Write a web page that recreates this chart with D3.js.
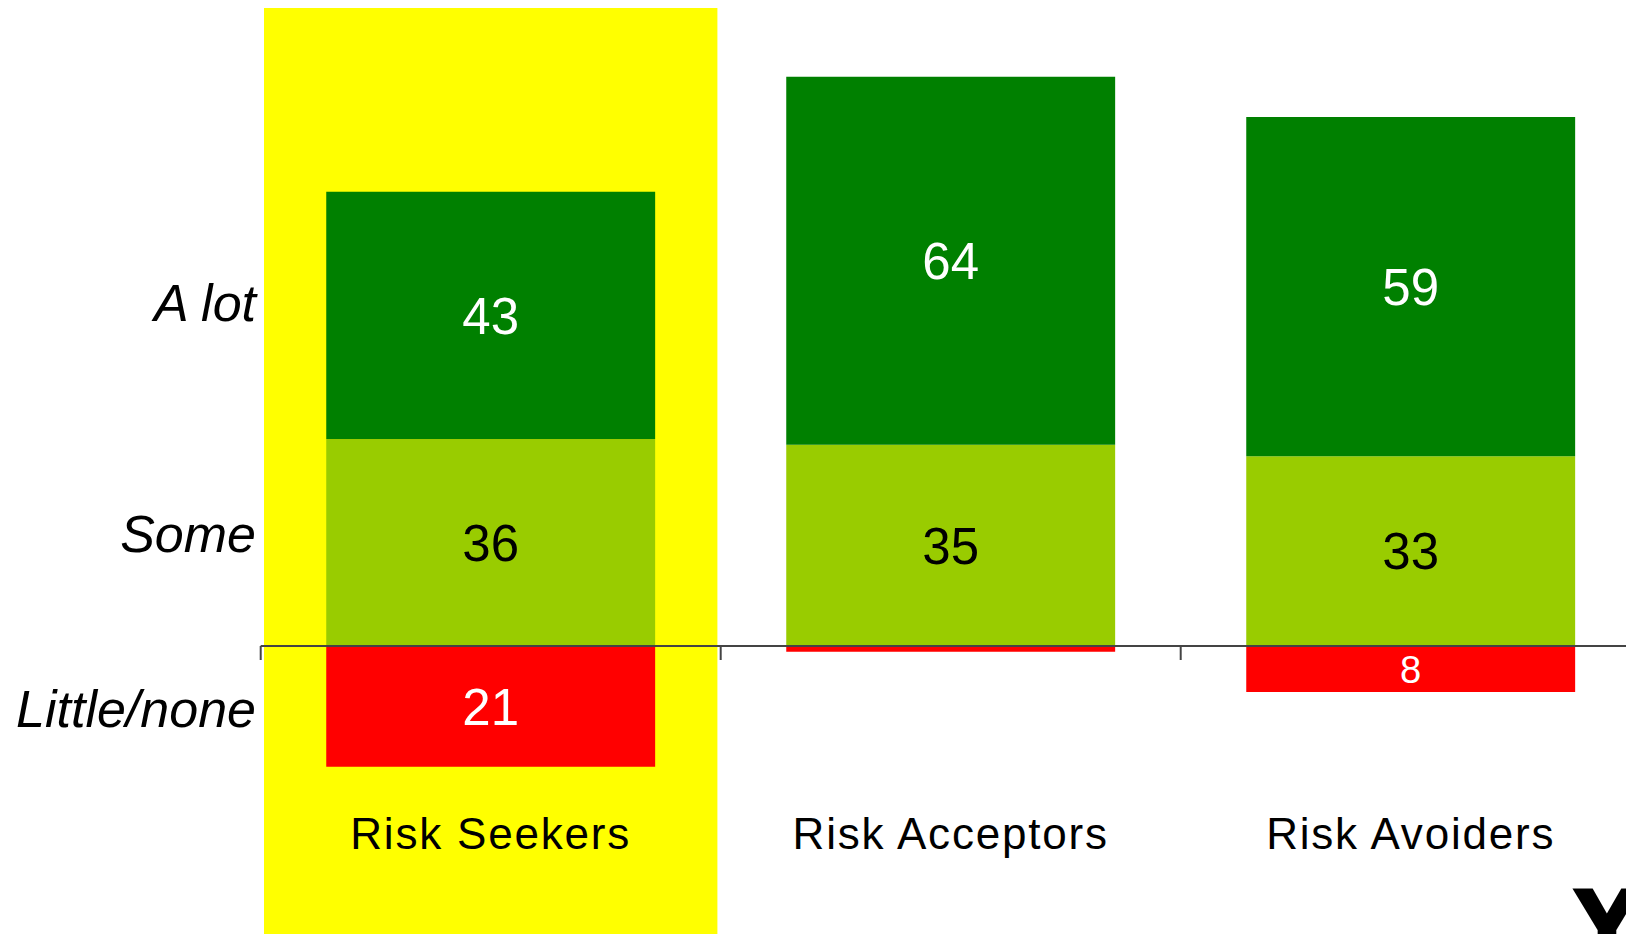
<!DOCTYPE html>
<html>
<head>
<meta charset="utf-8">
<script src="https://cdn.jsdelivr.net/npm/d3@7"></script>
<style>
  html, body { margin: 0; padding: 0; background: #fff; overflow: hidden; }
  svg { display: block; }
  text { font-family: "Liberation Sans", Arial, Helvetica, sans-serif; }
</style>
</head>
<body>
<svg id="chart" width="1626" height="934"></svg>
<script>
// ---- data ----
const categories = ["Risk Seekers", "Risk Acceptors", "Risk Avoiders"];
const aLot = [43, 64, 59];
const some = [36, 35, 33];
const littleNone = [21, 1, 8];
const rowLabels = ["A lot", "Some", "Little/none"];
const highlighted = "Risk Seekers";

// ---- layout ----
const W = 1626, H = 934;
const svg = d3.select("#chart");

const x = d3.scaleBand().domain(categories).range([260.7, 1640.7]).padding(0);
const barW = x.bandwidth() * 0.715;
const y = d3.scaleLinear().domain([0, 100]).range([646, 71]);

const colors = { aLot: "#008000", some: "#99CC00", little: "#FF0000" };

// highlight band
svg.append("rect")
  .attr("x", x(highlighted) + 3.3)
  .attr("y", 8)
  .attr("width", x.bandwidth() - 6.6)
  .attr("height", H - 8)
  .attr("fill", "#FFFF00");

// segments
const segs = [];
categories.forEach((c, i) => {
  segs.push({ cat: c, y0: 0, y1: some[i], v: some[i], fill: colors.some, txt: "#000" });
  segs.push({ cat: c, y0: some[i], y1: some[i] + aLot[i], v: aLot[i], fill: colors.aLot, txt: "#fff" });
  segs.push({ cat: c, y0: -littleNone[i], y1: 0, v: littleNone[i], fill: colors.little, txt: "#fff" });
});

const bx = c => x(c) + (x.bandwidth() - barW) / 2;

svg.append("g").selectAll("rect").data(segs).join("rect")
  .attr("x", d => bx(d.cat))
  .attr("width", barW)
  .attr("y", d => y(d.y1))
  .attr("height", d => y(d.y0) - y(d.y1))
  .attr("fill", d => d.fill);

// value labels
svg.append("g").selectAll("text").data(segs.filter(d => (y(d.y0) - y(d.y1)) > 20)).join("text")
  .each(function (d) {
    const h = y(d.y0) - y(d.y1);
    const fs = Math.min(51, h * 0.83);
    const cy = (y(d.y0) + y(d.y1)) / 2;
    d3.select(this)
      .attr("x", x(d.cat) + x.bandwidth() / 2)
      .attr("y", cy + fs * 0.358)
      .attr("font-size", fs)
      .attr("text-anchor", "middle")
      .attr("fill", d.txt)
      .text(d.v);
  });

// baseline axis with ticks at band boundaries
const axisG = svg.append("g");
axisG.append("line")
  .attr("x1", x.range()[0]).attr("x2", W)
  .attr("y1", y(0)).attr("y2", y(0))
  .attr("stroke", "#444").attr("stroke-width", 2);
axisG.selectAll("line.tick").data(categories).join("line")
  .attr("class", "tick")
  .attr("x1", d => x(d)).attr("x2", d => x(d))
  .attr("y1", y(0)).attr("y2", y(0) + 14)
  .attr("stroke", "#444").attr("stroke-width", 2);

// category labels
svg.append("g").selectAll("text").data(categories).join("text")
  .attr("x", d => x(d) + x.bandwidth() / 2)
  .attr("y", 849)
  .attr("font-size", 44)
  .attr("letter-spacing", 1.8)
  .attr("text-anchor", "middle")
  .attr("fill", "#000")
  .text(d => d);

// row labels (italic)
const rowY = [321, 552, 727];
svg.append("g").selectAll("text").data(rowLabels).join("text")
  .attr("x", 256)
  .attr("y", (d, i) => rowY[i])
  .attr("font-size", 52)
  .attr("font-style", "italic")
  .attr("text-anchor", "end")
  .attr("fill", "#000")
  .text(d => d);

// partial logo at bottom-right
svg.append("text")
  .attr("x", 1607).attr("y", 956)
  .attr("font-size", 95)
  .attr("font-weight", "bold")
  .attr("text-anchor", "middle")
  .attr("fill", "#000")
  .attr("stroke", "#000").attr("stroke-width", 5)
  .text("Y");
</script>
</body>
</html>
